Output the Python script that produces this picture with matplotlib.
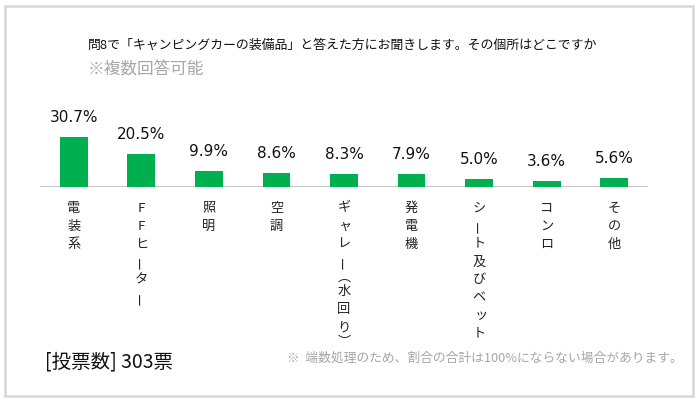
import matplotlib
matplotlib.use("Agg")
import matplotlib.pyplot as plt
from matplotlib.patches import Rectangle

plt.rcParams['font.family'] = ['Noto Sans CJK JP', 'DejaVu Sans']

categories = ["電装系", "FFヒーター", "照明", "空調", "ギャレー（水回り）",
              "発電機", "シート及びベット", "コンロ", "その他"]
values = [30.7, 20.5, 9.9, 8.6, 8.3, 7.9, 5.0, 3.6, 5.6]
value_labels = ["30.7%", "20.5%", "9.9%", "8.6%", "8.3%", "7.9%", "5.0%", "3.6%", "5.6%"]

title = "問8で「キャンピングカーの装備品」と答えた方にお聞きします。その個所はどこですか"
subtitle = "※複数回答可能"
votes = "[投票数] 303票"
footnote = "※  端数処理のため、割合の合計は100%にならない場合があります。"

W, H = 700, 403
fig = plt.figure(figsize=(W / 100, H / 100), dpi=100)
fig.patch.set_facecolor("white")

def fx(x):
    return x / W

def fy(y):
    return 1 - y / H

# frame
fig.patches.append(Rectangle((fx(5), fy(396)), fx(693) - fx(5), fy(6) - fy(396),
                             transform=fig.transFigure, fill=False,
                             edgecolor="#d9d9d9", linewidth=1.9))

# axes
ax_left, ax_right = 40, 648
base_y = 187
ymax = 40
px_per_unit = 1.62
ax = fig.add_axes([fx(ax_left), fy(base_y), fx(ax_right) - fx(ax_left),
                   ymax * px_per_unit / H])
ax.set_xlim(-0.5, len(categories) - 0.5)
ax.set_ylim(0, ymax)
ax.axis("off")
ax.axhline(0, color="#bfbfbf", linewidth=1.3, zorder=1)

x = list(range(len(categories)))
ax.bar(x, values, width=0.41, color="#00B050", zorder=2)

for xi, v, lab in zip(x, values, value_labels):
    ax.annotate(lab, xy=(xi, v), xytext=(0, 10.8), textcoords="offset points",
                ha="center", va="baseline", fontsize=11,
                family=["DejaVu Sans"], color="#111111", annotation_clip=False)

# vertical writing: long vowel mark rotated, parentheses in vertical forms
rotate_chars = {"ー": 90}
vertical_forms = {"（": "︵", "）": "︶"}
small_kana = set("ャッ")
PT = 0.72  # points per pixel at dpi 100
first_px = 21
full_adv = 18
half_adv = 12
for xi, cat in zip(x, categories):
    pos = first_px
    prev_adv = None
    for k, ch in enumerate(cat):
        adv = half_adv if ch in vertical_forms else full_adv
        if prev_adv is not None:
            pos += (prev_adv + adv) / 2
        prev_adv = adv
        dx = 1.5 if ch in small_kana else 0
        glyph = vertical_forms.get(ch, ch)
        ax.annotate(glyph, xy=(xi, 0), xytext=(dx, -pos * PT),
                    textcoords="offset points", ha="center", va="center",
                    fontsize=9.5, rotation=rotate_chars.get(ch, 0),
                    color="#222222", annotation_clip=False)

fig.text(fx(88), fy(45), title, ha="left", va="center", fontsize=9.3, color="#111111")
fig.text(fx(88), fy(70), subtitle, ha="left", va="center", fontsize=12, color="#a6a6a6")
fig.text(fx(45), fy(362), votes, ha="left", va="center", fontsize=14, color="#111111")
fig.text(fx(683), fy(358), footnote, ha="right", va="center", fontsize=9.2, color="#a6a6a6")

fig.savefig("out.png", dpi=100, facecolor="white")
